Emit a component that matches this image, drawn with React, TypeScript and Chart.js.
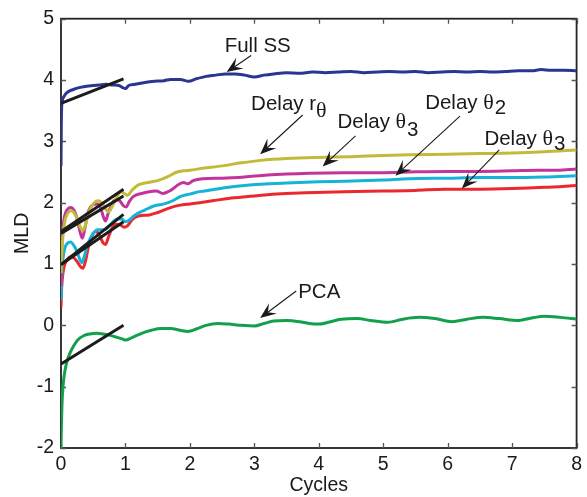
import React, { useEffect, useRef } from "react";
import { Chart, registerables } from "chart.js";

Chart.register(...registerables);

// Axis ticks
const cycleTicks = [0, 1, 2, 3, 4, 5, 6, 7, 8];
const mldTicks = [-2, -1, 0, 1, 2, 3, 4, 5];

// Series as [cycles, MLD] pairs
const fullSs: [number, number][] = [
  [0, 2.6], [0.005, 3.3], [0.01, 3.55], [0.02, 3.66], [0.04, 3.72], [0.07, 3.77], [0.1, 3.8],
  [0.15, 3.83], [0.2, 3.85], [0.3, 3.88], [0.4, 3.9], [0.5, 3.91], [0.6, 3.92], [0.7, 3.93],
  [0.8, 3.92], [0.9, 3.91], [0.95, 3.88], [1.0, 3.86], [1.05, 3.91], [1.15, 3.93], [1.3, 3.96],
  [1.45, 3.98], [1.6, 3.99], [1.7, 4.01], [1.85, 4.01], [1.98, 3.98], [2.1, 4.02], [2.25, 4.06],
  [2.4, 4.08], [2.55, 4.1], [2.7, 4.1], [2.85, 4.08], [3.0, 4.05], [3.15, 4.08], [3.3, 4.1],
  [3.5, 4.12], [3.7, 4.11], [3.9, 4.13], [4.1, 4.12], [4.3, 4.13], [4.5, 4.14], [4.7, 4.12],
  [4.9, 4.13], [5.1, 4.14], [5.3, 4.13], [5.5, 4.14], [5.7, 4.12], [5.9, 4.13], [6.1, 4.14],
  [6.3, 4.13], [6.5, 4.14], [6.7, 4.13], [6.9, 4.14], [7.1, 4.15], [7.3, 4.15], [7.45, 4.17],
  [7.6, 4.16], [7.8, 4.16], [8.0, 4.15],
];

const delayR: [number, number][] = [
  [0, 0.85], [0.01, 1.1], [0.03, 1.45], [0.06, 1.7], [0.1, 1.82], [0.15, 1.87], [0.2, 1.84],
  [0.25, 1.74], [0.3, 1.6], [0.34, 1.55], [0.38, 1.64], [0.43, 1.84], [0.5, 1.98], [0.57, 2.03],
  [0.63, 2.0], [0.69, 1.9], [0.74, 1.85], [0.8, 1.95], [0.87, 2.1], [0.93, 2.18], [0.98, 2.15],
  [1.03, 2.12], [1.1, 2.2], [1.2, 2.29], [1.35, 2.33], [1.5, 2.36], [1.65, 2.42], [1.8, 2.5],
  [1.9, 2.52], [2.0, 2.53], [2.2, 2.56], [2.5, 2.6], [2.8, 2.65], [3.1, 2.69], [3.5, 2.72],
  [4.1, 2.74], [4.5, 2.75], [5.0, 2.77], [5.4, 2.78], [6.0, 2.79], [6.5, 2.8], [7.0, 2.81],
  [7.5, 2.83], [8.0, 2.86],
];

const delayTheta3a: [number, number][] = [
  [0, 0.64], [0.01, 1.15], [0.03, 1.58], [0.06, 1.8], [0.1, 1.89], [0.15, 1.92], [0.2, 1.88],
  [0.25, 1.74], [0.29, 1.55], [0.33, 1.42], [0.37, 1.58], [0.42, 1.84], [0.5, 1.97], [0.57, 1.98],
  [0.62, 1.9], [0.66, 1.76], [0.69, 1.7], [0.73, 1.82], [0.8, 2.0], [0.86, 2.05], [0.92, 2.02],
  [0.97, 1.95], [1.01, 1.93], [1.06, 2.02], [1.12, 2.1], [1.25, 2.15], [1.37, 2.18], [1.48, 2.19],
  [1.58, 2.15], [1.7, 2.2], [1.83, 2.3], [1.9, 2.33], [1.97, 2.31], [2.05, 2.36], [2.2, 2.39],
  [2.5, 2.4], [2.85, 2.42], [3.2, 2.45], [3.85, 2.48], [4.4, 2.49], [5.0, 2.49], [5.4, 2.5],
  [6.0, 2.51], [6.5, 2.51], [7.0, 2.52], [7.4, 2.53], [7.7, 2.53], [8.0, 2.55],
];

const delayTheta2: [number, number][] = [
  [0, 0.41], [0.01, 0.8], [0.03, 1.08], [0.06, 1.26], [0.1, 1.34], [0.15, 1.36], [0.2, 1.3],
  [0.25, 1.2], [0.29, 1.08], [0.32, 1.02], [0.36, 1.12], [0.42, 1.34], [0.5, 1.5], [0.57, 1.56],
  [0.63, 1.56], [0.7, 1.57], [0.8, 1.68], [0.88, 1.74], [0.95, 1.73], [1.0, 1.69], [1.05, 1.71],
  [1.15, 1.8], [1.3, 1.88], [1.45, 1.95], [1.6, 1.98], [1.75, 2.04], [1.85, 2.1], [2.0, 2.14],
  [2.15, 2.18], [2.35, 2.21], [2.6, 2.25], [2.85, 2.28], [3.1, 2.3], [3.5, 2.32], [4.0, 2.34],
  [4.4, 2.35], [5.0, 2.37], [5.4, 2.39], [6.0, 2.4], [6.5, 2.41], [7.0, 2.41], [7.5, 2.42],
  [8.0, 2.44],
];

const delayTheta3b: [number, number][] = [
  [0, 0.29], [0.01, 0.6], [0.03, 0.85], [0.06, 1.0], [0.1, 1.08], [0.15, 1.12], [0.2, 1.1],
  [0.25, 1.04], [0.3, 0.96], [0.34, 0.93], [0.38, 1.05], [0.43, 1.3], [0.5, 1.5], [0.55, 1.53],
  [0.6, 1.46], [0.65, 1.35], [0.69, 1.32], [0.74, 1.45], [0.8, 1.6], [0.86, 1.65], [0.92, 1.64],
  [0.98, 1.6], [1.03, 1.62], [1.1, 1.72], [1.2, 1.78], [1.37, 1.8], [1.5, 1.84], [1.7, 1.92],
  [1.85, 1.96], [2.0, 1.98], [2.15, 2.0], [2.35, 2.03], [2.6, 2.07], [2.9, 2.1], [3.35, 2.14],
  [3.8, 2.16], [4.4, 2.18], [5.0, 2.19], [5.5, 2.2], [5.95, 2.22], [6.5, 2.22], [7.0, 2.23],
  [7.5, 2.25], [8.0, 2.28],
];

const pca: [number, number][] = [
  [0, -2.0], [0.005, -1.7], [0.015, -1.3], [0.035, -0.95], [0.06, -0.75], [0.09, -0.6],
  [0.14, -0.45], [0.2, -0.33], [0.26, -0.24], [0.35, -0.17], [0.45, -0.14], [0.55, -0.13],
  [0.65, -0.14], [0.75, -0.16], [0.85, -0.19], [0.95, -0.22], [1.0, -0.24], [1.1, -0.2],
  [1.25, -0.13], [1.4, -0.08], [1.55, -0.05], [1.7, -0.05], [1.85, -0.08], [1.97, -0.1],
  [2.1, -0.06], [2.25, 0.0], [2.43, 0.03], [2.6, 0.02], [2.8, 0.0], [3.0, -0.01], [3.15, 0.03],
  [3.3, 0.07], [3.5, 0.08], [3.7, 0.06], [3.85, 0.03], [4.0, 0.02], [4.15, 0.05], [4.35, 0.1],
  [4.6, 0.11], [4.8, 0.08], [5.07, 0.05], [5.3, 0.1], [5.55, 0.13], [5.8, 0.11], [6.07, 0.06],
  [6.3, 0.1], [6.55, 0.13], [6.8, 0.11], [7.1, 0.08], [7.3, 0.12], [7.5, 0.15], [7.75, 0.13],
  [8.0, 0.1],
];

// Initial-slope fits over the first cycle
const fullSsFit: [number, number][] = [[0, 3.62], [0.97, 4.02]];
const delayRFit: [number, number][] = [[0, 1.53], [0.97, 2.22]];
const delayTheta3aFit: [number, number][] = [[0, 1.5], [0.97, 2.11]];
const delayTheta2Fit: [number, number][] = [[0, 0.99], [0.97, 1.81]];
const delayTheta3bFit: [number, number][] = [[0, 0.99], [0.97, 1.69]];
const pcaFit: [number, number][] = [[0, -0.63], [0.97, 0.0]];

type Part = { t: string; greek?: boolean; dy?: number };
type Note = { parts: Part[]; x: number; y: number; from: [number, number]; to: [number, number] };

// Callout labels (text anchor, arrow start and arrow tip in data units)
const notes: Note[] = [
  { parts: [{ t: "Full SS" }], x: 2.54, y: 4.45, from: [2.95, 4.4], to: [2.57, 4.13] },
  { parts: [{ t: "Delay r" }, { t: "θ", greek: true, dy: 7 }], x: 2.95, y: 3.51, from: [3.75, 3.43], to: [3.09, 2.79] },
  { parts: [{ t: "Delay " }, { t: "θ", greek: true }, { t: "3", dy: 8 }], x: 4.29, y: 3.22, from: [4.57, 3.09], to: [4.06, 2.59] },
  { parts: [{ t: "Delay " }, { t: "θ", greek: true }, { t: "2", dy: 5 }], x: 5.65, y: 3.52, from: [6.19, 3.41], to: [5.19, 2.44] },
  { parts: [{ t: "Delay " }, { t: "θ", greek: true }, { t: "3", dy: 5 }], x: 6.57, y: 2.94, from: [6.8, 2.86], to: [6.22, 2.23] },
  { parts: [{ t: "PCA" }], x: 3.68, y: 0.44, from: [3.65, 0.56], to: [3.09, 0.12] },
];

const SANS = "'Liberation Sans', Arial, Helvetica, sans-serif";
const SERIF = "'Liberation Serif', 'DejaVu Serif', serif";
const INK = "#1a1a1a";

const toPoints = (d: [number, number][]) => d.map(([x, y]) => ({ x, y }));

const series = (label: string, d: [number, number][], color: string) => ({
  label,
  data: toPoints(d),
  borderColor: color,
  borderWidth: 3,
  pointRadius: 0,
  cubicInterpolationMode: "monotone" as const,
  order: 1,
});

const fit = (label: string, d: [number, number][]) => ({
  label,
  data: toPoints(d),
  borderColor: "#1c1c1c",
  borderWidth: 3,
  pointRadius: 0,
  order: 0,
});

const framePlugin = {
  id: "frameTicks",
  beforeDatasetsDraw(chart: any) {
    const { ctx, chartArea: a, scales } = chart;
    ctx.save();
    ctx.strokeStyle = "#222";
    ctx.lineWidth = 1.8;
    ctx.strokeRect(a.left, a.top, a.right - a.left, a.bottom - a.top);
    ctx.strokeStyle = "#555";
    ctx.lineWidth = 1.3;
    const len = 5;
    ctx.beginPath();
    cycleTicks.forEach((v) => {
      const px = Math.round(scales.x.getPixelForValue(v)) + 0.5;
      ctx.moveTo(px, a.bottom);
      ctx.lineTo(px, a.bottom - len);
      ctx.moveTo(px, a.top);
      ctx.lineTo(px, a.top + len);
    });
    mldTicks.forEach((v) => {
      const py = Math.round(scales.y.getPixelForValue(v)) + 0.5;
      ctx.moveTo(a.left, py);
      ctx.lineTo(a.left + len, py);
      ctx.moveTo(a.right, py);
      ctx.lineTo(a.right - len, py);
    });
    ctx.stroke();
    ctx.restore();
  },
};

const notesPlugin = {
  id: "callouts",
  afterDraw(chart: any) {
    const { ctx, scales } = chart;
    const sx = scales.x;
    const sy = scales.y;
    ctx.save();
    ctx.fillStyle = INK;
    ctx.strokeStyle = INK;
    ctx.textAlign = "left";
    ctx.textBaseline = "alphabetic";
    notes.forEach((n) => {
      let px = sx.getPixelForValue(n.x);
      const py = sy.getPixelForValue(n.y);
      n.parts.forEach((p) => {
        ctx.font = p.greek ? `22px ${SERIF}` : `20.5px ${SANS}`;
        ctx.fillText(p.t, px, py + (p.dy || 0));
        px += ctx.measureText(p.t).width + (p.greek ? 1 : 0);
      });
      const fx = sx.getPixelForValue(n.from[0]);
      const fy = sy.getPixelForValue(n.from[1]);
      const tx = sx.getPixelForValue(n.to[0]);
      const ty = sy.getPixelForValue(n.to[1]);
      const ang = Math.atan2(ty - fy, tx - fx);
      const c = Math.cos(ang);
      const s = Math.sin(ang);
      const L = 16;
      const W = 6.5;
      const nx = tx - 0.6 * L * c;
      const ny = ty - 0.6 * L * s;
      ctx.lineWidth = 1.1;
      ctx.beginPath();
      ctx.moveTo(fx, fy);
      ctx.lineTo(nx, ny);
      ctx.stroke();
      const bx = tx - L * c;
      const by = ty - L * s;
      ctx.beginPath();
      ctx.moveTo(tx, ty);
      ctx.lineTo(bx - W * s, by + W * c);
      ctx.lineTo(nx, ny);
      ctx.lineTo(bx + W * s, by - W * c);
      ctx.closePath();
      ctx.fill();
    });
    ctx.restore();
  },
};

export default function App() {
  const ref = useRef<HTMLCanvasElement>(null);

  useEffect(() => {
    document.body.style.margin = "0";
    const canvas = ref.current;
    if (!canvas) return;
    const chart = new Chart(canvas, {
      type: "line",
      data: {
        datasets: [
          fit("Full SS fit", fullSsFit),
          fit("Delay r fit", delayRFit),
          fit("Delay θ3 fit", delayTheta3aFit),
          fit("Delay θ2 fit", delayTheta2Fit),
          fit("Delay θ3 fit b", delayTheta3bFit),
          fit("PCA fit", pcaFit),
          series("Full SS", fullSs, "#2b3592"),
          series("Delay rθ", delayR, "#c2bb3a"),
          series("Delay θ3", delayTheta3a, "#c2349b"),
          series("Delay θ2", delayTheta2, "#16b3d9"),
          series("Delay θ3 b", delayTheta3b, "#ea282d"),
          series("PCA", pca, "#13a04c"),
        ] as any,
      },
      options: {
        animation: false,
        responsive: false,
        devicePixelRatio: 1,
        layout: { padding: { top: 17, right: 6, left: 0, bottom: 0 } },
        plugins: { legend: { display: false }, tooltip: { enabled: false } },
        scales: {
          x: {
            type: "linear",
            min: 0,
            max: 8,
            afterBuildTicks: (s: any) => {
              s.ticks = cycleTicks.map((v) => ({ value: v }));
            },
            afterFit: (s: any) => {
              s.height = 49;
            },
            grid: { display: false, drawTicks: false },
            border: { display: false },
            ticks: { color: INK, padding: 5, font: { family: SANS, size: 19.5 }, maxRotation: 0 },
            title: { display: true, text: "Cycles", color: INK, font: { family: SANS, size: 19.5 }, padding: { top: 0, bottom: 0 } },
          },
          y: {
            type: "linear",
            min: -2,
            max: 5,
            afterBuildTicks: (s: any) => {
              s.ticks = mldTicks.map((v) => ({ value: v }));
            },
            afterFit: (s: any) => {
              s.width = 61;
            },
            grid: { display: false, drawTicks: false },
            border: { display: false },
            ticks: { color: INK, padding: 7, font: { family: SANS, size: 19.5 } },
            title: { display: true, text: "MLD", color: INK, font: { family: SANS, size: 19.5 }, padding: { top: 11, bottom: 0 } },
          },
        },
      } as any,
      plugins: [framePlugin, notesPlugin],
    });
    return () => chart.destroy();
  }, []);

  return (
    <div style={{ width: 587, height: 497, position: "relative" }}>
      <canvas ref={ref} width={587} height={497} style={{ display: "block", width: 587, height: 497 }} />
    </div>
  );
}
